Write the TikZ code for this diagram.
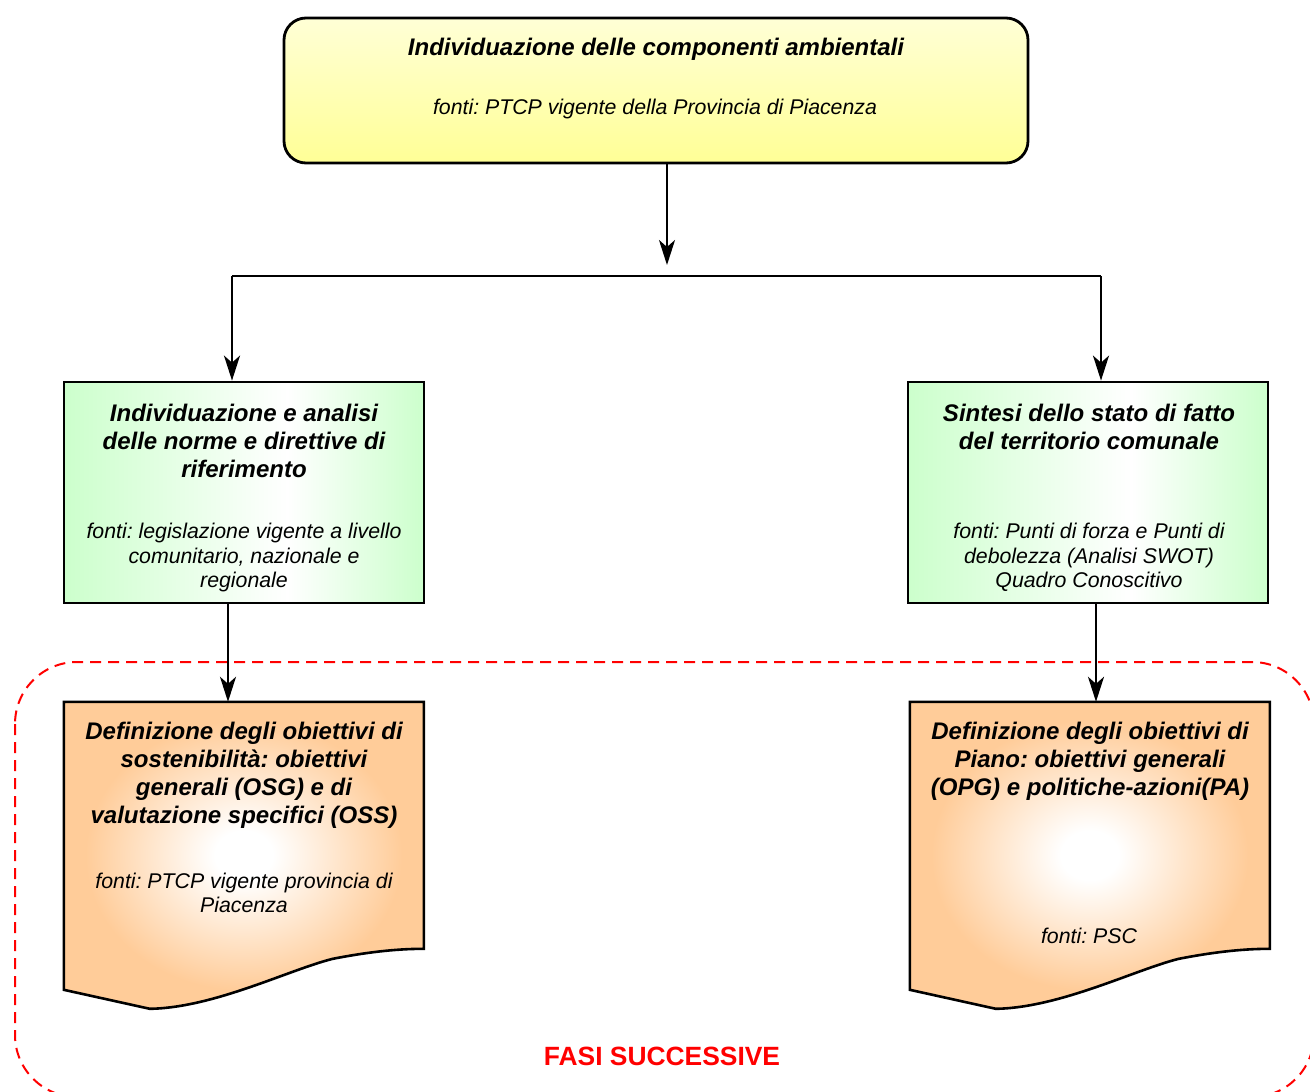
\documentclass[tikz,border=0pt]{standalone}
\usepackage{fontspec}
\setmainfont{Liberation Sans}
\usetikzlibrary{arrows.meta}
\frenchspacing

\definecolor{grn}{RGB}{204,255,204}
\definecolor{orng}{RGB}{255,204,153}
\definecolor{ylwtop}{RGB}{255,255,214}
\definecolor{ylwbot}{RGB}{255,255,150}
\definecolor{fasired}{RGB}{255,0,0}

% green boxes: green at the sides, white a little right of the middle
\pgfdeclarehorizontalshading{greenfade}{100bp}{color(0bp)=(grn); color(25bp)=(grn); color(56bp)=(white); color(75bp)=(grn); color(100bp)=(grn)}
% orange documents: white glow in the centre
\pgfdeclareradialshading{orangeglow}{\pgfpoint{0bp}{0bp}}{color(0bp)=(white); color(4bp)=(white); color(22bp)=(orng); color(50bp)=(orng)}

\tikzset{
  ttl/.style={font=\fontsize{24}{28}\selectfont\bfseries\itshape, align=center, inner sep=0pt},
  src/.style={font=\fontsize{21.3}{24.5}\selectfont\itshape, align=center, inner sep=0pt},
  topbox/.style={draw, line width=2.8pt, rounded corners=22pt, top color=ylwtop, bottom color=ylwbot,
                 minimum width=744pt, minimum height=145pt, inner sep=0pt},
  greenbox/.style={draw, line width=2.8pt, shading=greenfade,
                 minimum width=360pt, minimum height=221pt, inner sep=0pt},
  docarea/.style={minimum width=360pt, minimum height=247pt, inner sep=0pt},
  docshape/.style={draw, line width=2.6pt, line join=miter, shading=orangeglow},
  conn/.style={line width=2.2pt},
  arr/.style={line width=2.2pt, -{Stealth[length=25pt,width=16pt,inset=7pt]}},
  phase/.style={draw=fasired, line width=2pt, dash pattern=on 11pt off 7pt, rounded corners=62pt},
}

\begin{document}
\begin{tikzpicture}[x=1pt, y=-1pt]
\useasboundingbox (0,0) rectangle (1310,1092);

% dashed frame of the following phases
\draw[phase] (15,662) rectangle (1314,1097);
\node[font=\fontsize{26.4}{30}\selectfont\bfseries, text=fasired, inner sep=0pt] (fasi) at (662,1056) {FASI SUCCESSIVE};

% top box
\node[topbox] (top) at (656,90.5) {};
\node[ttl] (toptitle) at (656,49) {Individuazione delle componenti ambientali};
\node[src] (topsrc) at (655,108.5) {fonti: PTCP vigente della Provincia di Piacenza};

% green boxes
\node[greenbox] (gl) at (244,492.5) {};
\node[ttl] (gltitle) at (244,440.5) {Individuazione e analisi\\delle norme e direttive di\\riferimento};
\node[src] (glsrc) at (244,557.5) {fonti: legislazione vigente a livello\\comunitario, nazionale e\\regionale};

\node[greenbox] (gr) at (1088,492.5) {};
\node[ttl] (grtitle) at (1089,426.5) {Sintesi dello stato di fatto\\del territorio comunale};
\node[src] (grsrc) at (1089,557.5) {fonti: Punti di forza e Punti di\\debolezza (Analisi SWOT)\\Quadro Conoscitivo};

% orange document boxes
\node[docarea] (ol) at (244,825.5) {};
\path[docshape, shift={(ol.north west)}]
  (0,0) -- (360,0) -- (360,247)
  .. controls (330,247) and (300,251) .. (269,257)
  .. controls (225,268) and (150,306) .. (86,307)
  -- (0,288) -- cycle;
\node[ttl] (oltitle) at (244,775) {Definizione degli obiettivi di\\sostenibilità: obiettivi\\generali (OSG) e di\\valutazione specifici (OSS)};
\node[src] (olsrc) at (244,893) {fonti: PTCP vigente provincia di\\Piacenza};

\node[docarea] (orr) at (1090,825.5) {};
\path[docshape, shift={(orr.north west)}]
  (0,0) -- (360,0) -- (360,247)
  .. controls (330,247) and (300,251) .. (269,257)
  .. controls (225,268) and (150,306) .. (86,307)
  -- (0,288) -- cycle;
\node[ttl] (ortitle) at (1090,761) {Definizione degli obiettivi di\\Piano: obiettivi generali\\(OPG) e politiche-azioni(PA)};
\node[src] (orsrc) at (1089,936) {fonti: PSC};

% connectors
\coordinate (hub) at (667,276);
\coordinate (hl) at (232,276);
\coordinate (hr) at (1101,276);
\draw[arr] (top.south -| hub) -- ([yshift=11pt]hub);
\draw[conn] (hl) -- (hr);
\draw[arr] (hl) -- (hl |- gl.north);
\draw[arr] (hr) -- (hr |- gr.north);
\draw[arr] ([xshift=-16pt]gl.south) -- ([xshift=-16pt]gl.south |- ol.north);
\draw[arr] ([xshift=8pt]gr.south) -- ([xshift=8pt]gr.south |- orr.north);
\end{tikzpicture}
\end{document}
